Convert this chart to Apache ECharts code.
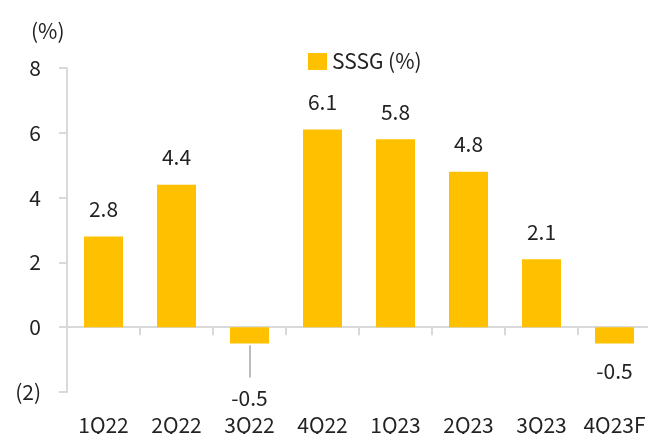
<!DOCTYPE html>
<html>
<head>
<meta charset="utf-8">
<script src="https://cdn.jsdelivr.net/npm/echarts@6/dist/echarts.min.js"></script>
<style>
  html, body { margin: 0; padding: 0; background: #fff; }
  #chart { width: 648px; height: 434px; }
</style>
</head>
<body>
<div id="chart"></div>
<script>
// 데이터
var categories = ['1Q22', '2Q22', '3Q22', '4Q22', '1Q23', '2Q23', '3Q23', '4Q23F'];
var sssg = [2.8, 4.4, -0.5, 6.1, 5.8, 4.8, 2.1, -0.5];
var yTicks = [-2, 0, 2, 4, 6, 8];
var seriesName = 'SSSG (%)';
var unitLabel = '(%)';

var FONT = 'Noto Sans CJK KR';
var FS = 21;
var TXT = '#222';
var AXIS = '#d9d9d9';
var BAR = '#FFC000';

var myChart = echarts.init(document.getElementById('chart'));

// 막대 데이터 (3Q22 라벨은 아래로 내림)
var barData = sssg.map(function (v, i) {
    var item = { value: v };
    if (v < 0) {
        item.label = { position: 'bottom', distance: 17 };
        if (categories[i] === '3Q22') {
            item.label.offset = [0, 27];
        }
    }
    return item;
});

var option = {
    animation: false,
    textStyle: { fontFamily: FONT },
    title: {
        text: unitLabel,
        left: 26,
        top: 16,
        textStyle: { fontFamily: FONT, fontSize: FS, fontWeight: 'normal', color: TXT }
    },
    legend: {
        data: [seriesName],
        left: 303,
        top: 46,
        itemWidth: 19,
        itemHeight: 17,
        icon: 'rect',
        textStyle: { fontFamily: FONT, fontSize: FS, color: TXT }
    },
    grid: {
        left: 67,
        right: -3,
        top: 68,
        bottom: 434 - 392,
        containLabel: false,
        outerBoundsMode: 'none'
    },
    xAxis: [
        {
            // 0 기준선 + 눈금
            type: 'category',
            data: categories,
            axisLine: { onZero: true, lineStyle: { color: AXIS, width: 2 } },
            axisTick: { show: true, length: 8, lineStyle: { color: AXIS, width: 2 } },
            axisLabel: { show: false }
        },
        {
            // 하단 라벨 (low position)
            type: 'category',
            data: categories,
            position: 'bottom',
            axisLine: { show: false, onZero: false },
            axisTick: { show: false },
            axisLabel: { interval: 0, margin: 23, hideOverlap: false, fontFamily: FONT, fontSize: FS, color: TXT }
        }
    ],
    yAxis: {
        type: 'value',
        min: yTicks[0],
        max: yTicks[yTicks.length - 1],
        interval: 2,
        splitLine: { show: false },
        axisLine: { show: true, lineStyle: { color: AXIS, width: 2 } },
        axisTick: { show: true, length: 8, lineStyle: { color: AXIS, width: 2 } },
        axisLabel: {
            margin: 26,
            fontFamily: FONT,
            fontSize: FS,
            color: TXT,
            formatter: function (v) {
                return v < 0 ? '(' + Math.abs(v) + ')' : String(v);
            }
        }
    },
    series: [
        {
            name: seriesName,
            type: 'bar',
            xAxisIndex: 0,
            barWidth: 39,
            itemStyle: { color: BAR },
            label: {
                show: true,
                position: 'top',
                distance: 17,
                fontFamily: FONT,
                fontSize: FS,
                color: TXT
            },
            markLine: {
                silent: true,
                symbol: 'none',
                label: { show: false },
                lineStyle: { color: '#a6a6a6', width: 1.5, type: 'solid' },
                data: [
                    [ { xAxis: '3Q22', yAxis: -0.56 }, { xAxis: '3Q22', yAxis: -1.55 } ]
                ]
            },
            data: barData
        }
    ]
};

myChart.setOption(option);
</script>
</body>
</html>
